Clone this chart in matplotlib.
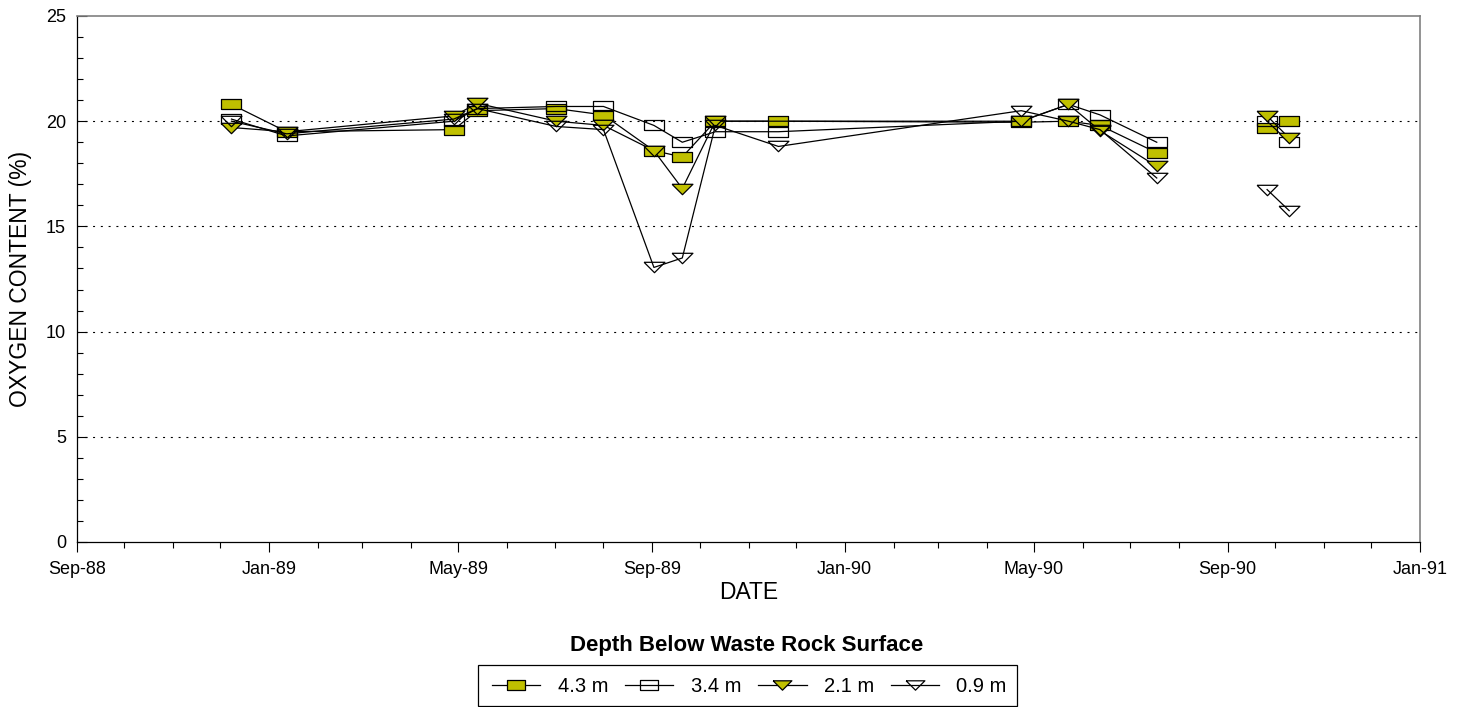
import matplotlib
matplotlib.use("Agg")
import matplotlib.pyplot as plt
import matplotlib.dates as mdates
from matplotlib.patches import Rectangle
import numpy as np
import datetime as dt

plt.rcParams['font.family'] = ['Liberation Sans', 'DejaVu Sans']

dates = ["1988-12-08", "1989-01-12", "1989-04-28", "1989-05-13", "1989-07-02",
         "1989-08-01", "1989-09-02", "1989-09-20", "1989-10-11", "1989-11-20",
         "1990-04-23", "1990-05-23", "1990-06-12", "1990-07-18",
         "1990-09-26", "1990-10-10"]
d_43 = [20.8, 19.5, 19.6, 20.5, 20.6, 20.3, 18.6, 18.3, 20.0, 20.0,
        19.95, 20.0, 19.8, 18.5, 19.7, 20.0]
d_34 = [20.1, 19.3, 20.0, 20.6, 20.7, 20.7, 19.8, 19.0, 19.5, 19.5,
        20.0, 20.8, 20.3, 19.0, 20.0, 19.0]
d_21 = [19.7, 19.5, 20.25, 20.85, 20.0, 19.8, 18.6, 16.8, 20.0, np.nan,
        20.0, 20.8, 19.55, 17.85, 20.25, 19.2]
d_09 = [20.0, 19.4, 20.1, 20.6, 19.75, 19.6, 13.05, 13.5, 19.8, 18.8,
        20.5, 20.0, 19.6, 17.3, 16.75, 15.75]
labels = ["4.3 m", "3.4 m", "2.1 m", "0.9 m"]
segments = [(0, 14), (14, 16)]  # data gap between Jul-90 and Sep-90

x = np.array([dt.datetime.strptime(s, "%Y-%m-%d") for s in dates])
olive = "#C0C000"

rect = [(-1, -0.5), (1, -0.5), (1, 0.5), (-1, 0.5), (-1, -0.5)]
tri = [(-1, 0.5), (1, 0.5), (0, -0.5), (-1, 0.5)]
styles = [
    dict(marker=rect, mfc=olive, mec="black"),
    dict(marker=rect, mfc="none", mec="black"),
    dict(marker=tri, mfc=olive, mec="black"),
    dict(marker=tri, mfc="none", mec="black"),
]

W, H = 1462, 707
fig = plt.figure(figsize=(W/100, H/100), dpi=100)
ax = fig.add_axes([77/W, 1-542/H, (1420-77)/W, (542-16)/H])

for vals, lab, st in zip([d_43, d_34, d_21, d_09], labels, styles):
    v = np.array(vals, dtype=float)
    for k, (a, b) in enumerate(segments):
        xs = x[a:b]
        vs = v[a:b]
        m = ~np.isnan(vs)
        ax.plot(xs[m], vs[m], color="black", lw=0.9, marker=st["marker"],
                ms=15, mfc=st["mfc"], mec=st["mec"], mew=0.9,
                label=lab if k == 0 else None)

ax.set_xlim(dt.datetime(1988, 9, 1), dt.datetime(1991, 1, 1))
ax.set_ylim(0, 25)
ax.xaxis.set_major_locator(mdates.MonthLocator(bymonth=[1, 5, 9]))
ax.xaxis.set_minor_locator(mdates.MonthLocator())
ax.xaxis.set_major_formatter(mdates.DateFormatter("%b-%y"))
ax.set_yticks([0, 5, 10, 15, 20, 25])
ax.set_yticks(np.arange(0, 26, 1), minor=True)
ax.tick_params(axis="x", which="major", direction="out", length=7, width=0.8,
               labelsize=13, pad=7)
ax.tick_params(axis="x", which="minor", direction="out", length=4.3, width=0.8)
ax.tick_params(axis="y", which="major", direction="in", length=7, width=0.8,
               labelsize=13, pad=8)
ax.tick_params(axis="y", which="minor", direction="in", length=4.3, width=0.8)

for yv in [5, 10, 15, 20]:
    ax.axhline(yv, color="black", lw=0.8, ls=(0, (1.8, 5.2)), zorder=0)

for s in ["top", "right"]:
    ax.spines[s].set_color("#808080")
    ax.spines[s].set_linewidth(1.2)
for s in ["left", "bottom"]:
    ax.spines[s].set_color("black")
    ax.spines[s].set_linewidth(0.9)

ax.set_xlabel("DATE", fontsize=16.5, labelpad=2)
ax.set_ylabel("OXYGEN CONTENT (%)", fontsize=16.5, labelpad=10)

fig.text(747/W, 1-645/H, "Depth Below Waste Rock Surface", ha="center",
         va="center", fontsize=16, fontweight="bold")

fig.patches.append(Rectangle((478/W, 1-706/H), (1017-478)/W, (706-665)/H,
                             transform=fig.transFigure, fill=False,
                             edgecolor="black", lw=0.9))
leg = fig.legend(loc="center left", bbox_to_anchor=(482/W, 1-687/H),
                 ncol=4, fontsize=14.5, frameon=False,
                 handlelength=2.4, handletextpad=0.85,
                 columnspacing=0.85, borderpad=0.0, markerscale=0.9)

fig.savefig("out.png", dpi=100)
